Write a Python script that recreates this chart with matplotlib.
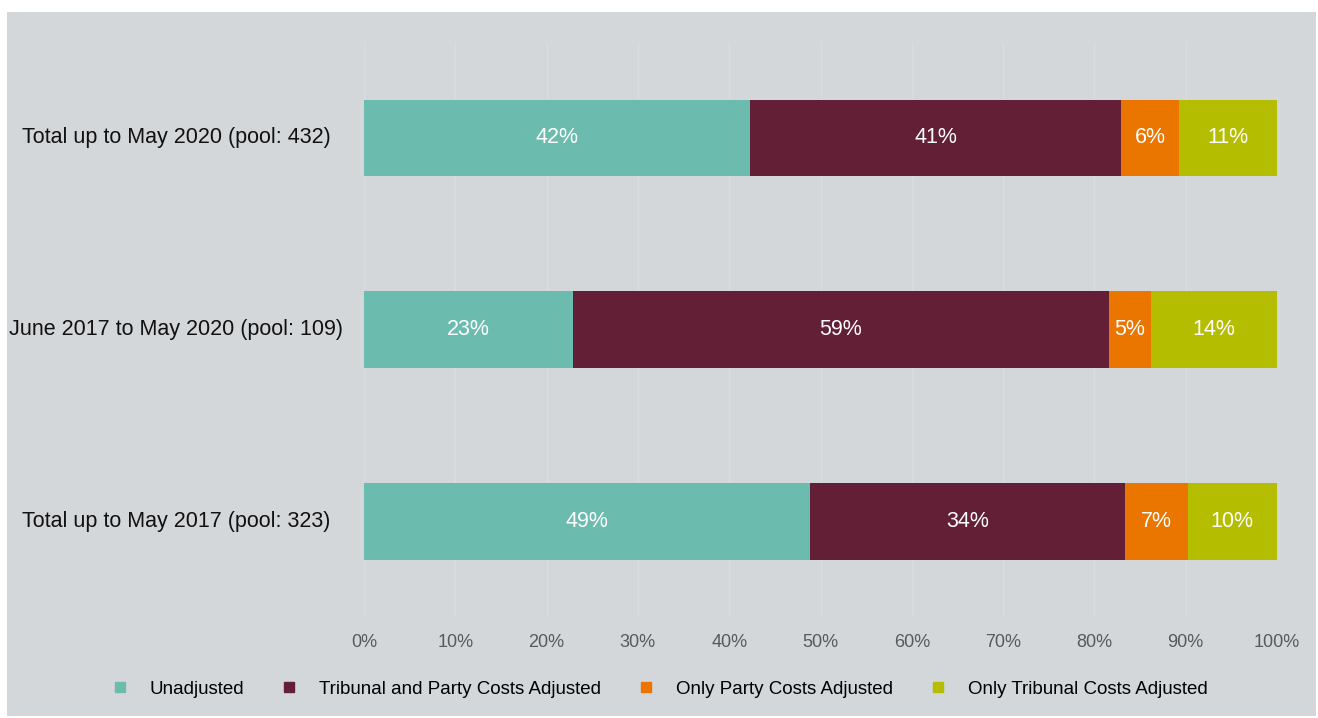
import matplotlib
matplotlib.use("Agg")
import matplotlib.pyplot as plt
import matplotlib.transforms as mtransforms
from matplotlib.lines import Line2D
from matplotlib.patches import Rectangle
import numpy as np

plt.rcParams['font.family'] = ['Liberation Sans', 'DejaVu Sans']

categories = ["Total up to May 2020 (pool: 432)",
              "June 2017 to May 2020 (pool: 109)",
              "Total up to May 2017 (pool: 323)"]
series = ["Unadjusted", "Tribunal and Party Costs Adjusted",
          "Only Party Costs Adjusted", "Only Tribunal Costs Adjusted"]
values = {
    "Unadjusted": [42.3, 22.9, 48.8],
    "Tribunal and Party Costs Adjusted": [40.6, 58.7, 34.6],
    "Only Party Costs Adjusted": [6.4, 4.6, 6.8],
    "Only Tribunal Costs Adjusted": [10.7, 13.8, 9.8],
}
labels = {
    "Unadjusted": ["42%", "23%", "49%"],
    "Tribunal and Party Costs Adjusted": ["41%", "59%", "34%"],
    "Only Party Costs Adjusted": ["6%", "5%", "7%"],
    "Only Tribunal Costs Adjusted": ["11%", "14%", "10%"],
}
colors = ["#6bbbae", "#621f35", "#ea7600", "#b5bd00"]
xticks = np.arange(0, 101, 10)

bg = "#d4d7da"
fig = plt.figure(figsize=(13.18, 7.18), dpi=100, facecolor="white")
fig.patches.append(Rectangle((7 / 1318, 2 / 718), 1309 / 1318, 704 / 718,
                             transform=fig.transFigure, facecolor=bg,
                             edgecolor="none", zorder=-10))
ax = fig.add_axes([364 / 1318, 1 - 617 / 718, 913 / 1318, 575 / 718])
ax.set_facecolor(bg)

y = np.arange(len(categories))
left = np.zeros(len(categories))
for s, c in zip(series, colors):
    v = np.array(values[s])
    ax.barh(y, v, left=left, height=0.4, color=c, zorder=3)
    for yi, li, vi, lab in zip(y, left, v, labels[s]):
        ax.text(li + vi / 2, yi, lab, ha="center", va="center",
                color="white", fontsize=15.5, zorder=4)
    left += v

ax.set_xlim(0, 100)
ax.set_ylim(-0.5, 2.5)
ax.invert_yaxis()
ax.set_xticks(xticks)
ax.set_xticklabels([f"{t}%" for t in xticks], color="#595959", fontsize=13)
ax.tick_params(axis="x", length=0, pad=12)
ax.set_yticks([])
ax.grid(axis="x", color="#dadddf", linewidth=1, zorder=0)
for sp in ax.spines.values():
    sp.set_visible(False)

trans = mtransforms.blended_transform_factory(ax.transAxes, ax.transData)
for yi, cat in zip(y, categories):
    ax.text((176 - 364) / 913, yi, cat, transform=trans, ha="center",
            va="center", fontsize=15.5, color="#111111")

handles = [Line2D([], [], marker="s", linestyle="none", markersize=7.5,
                  markerfacecolor=c, markeredgecolor=c) for c in colors]
fig.legend(handles, series, loc="center", bbox_to_anchor=(0.5, 1 - 689 / 718),
           ncol=4, frameon=False, fontsize=13.5, handletextpad=1.1,
           columnspacing=1.9, handlelength=1.0)

fig.savefig("out.png", dpi=100, facecolor="white")
